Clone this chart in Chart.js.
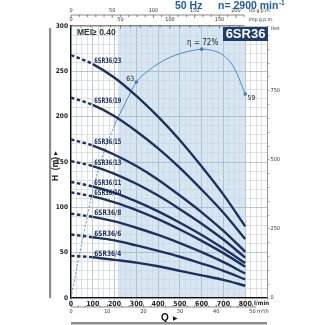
<!DOCTYPE html>
<html><head><meta charset="utf-8">
<script src="https://cdn.jsdelivr.net/npm/chart.js@4"></script>
<style>html,body{margin:0;padding:0;background:#fff}#wrap{width:325px;height:325px}</style>
</head><body><div id="wrap"><canvas id="c" width="325" height="325"></canvas></div>
<script>
// ---- data ----
const flowQ = [0, 100, 200, 300, 400, 500, 600, 700, 800]; // l/min
const pumpModels = ['6SR36/23','6SR36/19','6SR36/15','6SR36/13','6SR36/11','6SR36/10','6SR36/8','6SR36/6','6SR36/4'];
const head23 = [268, 258, 243, 223, 200, 174, 145, 114, 79];
const head19 = [221, 213, 200.5, 184, 165, 143.5, 119.5, 94, 65];
const head15 = [175, 168, 158, 145.5, 130.5, 113, 94.5, 74, 51];
const head13 = [151, 145.5, 137, 126, 113, 98, 82, 64.5, 44.5];
const head11 = [128, 123, 116, 106.5, 95.5, 83, 69.5, 54.5, 38.5];
const head10 = [116.5, 112, 105.5, 97, 87, 75.5, 63, 49.5, 34.5];
const head8  = [93, 89.5, 84.5, 77.5, 69.5, 60.5, 50.5, 39.5, 27];
const head6  = [70, 67, 63.5, 58, 52, 45.5, 38, 30, 20.5];
const head4  = [46.5, 45, 42, 39, 35, 30, 25, 20, 13.5];
const pumpHeads = [head23, head19, head15, head13, head11, head10, head8, head6, head4];

const effQ = [0, 50, 100, 150, 200, 250, 300, 350, 400, 450, 500, 550, 600, 650, 700, 750, 800];
const effValues = [0, 16, 31, 42, 50, 56.5, 62.5, 65.5, 67.8, 69.5, 70.7, 71.5, 72, 71.6, 70.2, 66.5, 59];
const effMarkQ = [300, 600, 800];
const effMarkLabels = ['63', 'η = 72%', '59'];

const usGpmTicks = [0, 50, 100, 150, 200];
const impGpmTicks = [0, 50, 100, 150];
const m3hTicks = [0, 10, 20, 30, 40, 50];
const feetTicks = [0, 250, 500, 750];
const bepRange = [215, 800]; // shaded working range, l/min

// unit conversions (l/min per unit)
const L_PER_USGAL = 3.78541, L_PER_IMPGAL = 4.54609, LMIN_PER_M3H = 1000 / 60, FT_PER_M = 3.28084;

const NAVY = '#1d3160';
const FONT = '"Liberation Sans Narrow","DejaVu Sans Condensed","Liberation Sans",sans-serif';

const pumpSets = pumpModels.map((name, i) => ({
  label: name,
  data: flowQ.map((q, k) => ({x: q, y: pumpHeads[i][k]})),
  borderColor: NAVY, borderWidth: 2.4, pointRadius: 0,
  cubicInterpolationMode: 'monotone', yAxisID: 'y',
  segment: {borderDash: c => c.p1.parsed.x <= 100 ? [3.5, 2.5] : undefined}
}));
const effSet = {
  label: 'eff',
  data: effQ.map((q, k) => ({x: q, y: effValues[k]})),
  borderColor: '#4a8ccc', borderWidth: 1, yAxisID: 'yEff',
  cubicInterpolationMode: 'monotone',
  pointRadius: c => effMarkQ.includes(effQ[c.dataIndex]) ? 1.8 : 0,
  pointBackgroundColor: '#3a7cc0', pointBorderWidth: 0,
  segment: {borderDash: c => c.p1.parsed.x <= 200 ? [2.5, 1.5] : undefined,
            borderWidth: c => c.p1.parsed.x <= 200 ? 0.8 : 1}
};

function fitText(ctx, txt, x, y, maxW) {
  const w = ctx.measureText(txt).width;
  const s = Math.min(1, maxW / w);
  ctx.save(); ctx.translate(x, y); ctx.scale(s, 1); ctx.fillText(txt, 0, 0); ctx.restore();
}

const decor = {
  id: 'decor',
  beforeDraw(chart) {
    const {ctx, chartArea: a, scales: {x}} = chart;
    ctx.save();
    ctx.fillStyle = '#d6e7f3';
    const x0 = x.getPixelForValue(bepRange[0]), x1 = x.getPixelForValue(bepRange[1]);
    ctx.fillRect(x0, a.top, x1 - x0, a.bottom - a.top);
    ctx.restore();
  },
  afterDatasetsDraw(chart) {
    const {ctx, scales: {x, yEff}} = chart;
    ctx.save();
    // pump labels
    ctx.fillStyle = NAVY;
    ctx.font = 'bold 7.5px ' + FONT;
    ctx.textAlign = 'left'; ctx.textBaseline = 'alphabetic';
    pumpModels.forEach((name, i) => {
      const p = chart.getDatasetMeta(i).data[1];
      fitText(ctx, name, p.x + 1.5, p.y - 1.5, 27);
    });
    // efficiency labels
    ctx.fillStyle = '#222';
    ctx.font = '7px ' + FONT;
    effMarkQ.forEach((q, i) => {
      const px = x.getPixelForValue(q), py = yEff.getPixelForValue(effValues[effQ.indexOf(q)]);
      if (i === 0) { ctx.textAlign = 'right'; ctx.textBaseline = 'middle'; ctx.fillText(effMarkLabels[i], px - 2, py - 2.5); }
      else if (i === 1) { ctx.textAlign = 'center'; ctx.textBaseline = 'bottom'; ctx.font = '8px ' + FONT; ctx.fillText(effMarkLabels[i], px + 1, py - 2); ctx.font = '7px ' + FONT; }
      else { ctx.textAlign = 'left'; ctx.textBaseline = 'middle'; ctx.fillText(effMarkLabels[i], px + 2, py + 4); }
    });
    ctx.restore();
  },
  afterDraw(chart) {
    const {ctx, chartArea: a, scales: {x}} = chart;
    ctx.save();
    // title
    ctx.fillStyle = '#1f5ea8';
    ctx.font = 'bold 10.5px "Liberation Sans",Arial,sans-serif';
    ctx.textBaseline = 'middle'; ctx.textAlign = 'left';
    ctx.fillText('50 Hz', 175, 6.5);
    ctx.fillText('n= 2900 min', 218, 6.5);
    const w = ctx.measureText('n= 2900 min').width;
    ctx.font = 'bold 6.5px "Liberation Sans",Arial,sans-serif';
    ctx.fillText('-1', 218 + w + 0.5, 3.5);

    // top axes
    const drawTopAxis = (ticks, factor, lineY, labelY, unit, maxUnits) => {
      ctx.strokeStyle = '#555'; ctx.lineWidth = 0.7;
      const xEnd = x.getPixelForValue(maxUnits * factor);
      ctx.beginPath(); ctx.moveTo(a.left, lineY); ctx.lineTo(xEnd, lineY); ctx.stroke();
      for (let v = 0; v <= maxUnits; v += 10) {
        const px = x.getPixelForValue(v * factor);
        ctx.beginPath(); ctx.moveTo(px, lineY); ctx.lineTo(px, lineY + (v % 50 === 0 ? 3 : 2)); ctx.stroke();
      }
      ctx.fillStyle = '#333'; ctx.font = '5.5px ' + FONT; ctx.textAlign = 'center'; ctx.textBaseline = 'middle';
      ticks.forEach(v => ctx.fillText(String(v), x.getPixelForValue(v * factor), labelY));
      ctx.textAlign = 'left'; ctx.font = '5px ' + FONT;
      ctx.fillText(unit, 249, labelY);
    };
    drawTopAxis(usGpmTicks, L_PER_USGAL, 15, 11, 'US g.p.m.', 210);
    drawTopAxis(impGpmTicks, L_PER_IMPGAL, a.top - 0.5, 20, 'Imp g.p.m.', 175);

    // bottom m3/h axis
    {
      const lineY = 307;
      ctx.strokeStyle = '#555'; ctx.lineWidth = 0.7;
      ctx.beginPath(); ctx.moveTo(a.left, lineY); ctx.lineTo(x.getPixelForValue(51 * LMIN_PER_M3H), lineY); ctx.stroke();
      for (let v = 0; v <= 50; v += 2) {
        const px = x.getPixelForValue(v * LMIN_PER_M3H);
        ctx.beginPath(); ctx.moveTo(px, lineY); ctx.lineTo(px, lineY - (v % 10 === 0 ? 2.5 : 1.5)); ctx.stroke();
      }
      ctx.fillStyle = '#333'; ctx.font = '5.5px ' + FONT; ctx.textAlign = 'center'; ctx.textBaseline = 'middle';
      m3hTicks.forEach(v => ctx.fillText(String(v), x.getPixelForValue(v * LMIN_PER_M3H), 312));
      ctx.textAlign = 'left';
      ctx.fillText('m³/h', 257, 312);
    }
    // l/min unit
    ctx.fillStyle = '#222'; ctx.font = 'bold 6px ' + FONT; ctx.textAlign = 'left'; ctx.textBaseline = 'middle';
    ctx.fillText('l/min', 254, 303);
    // feet unit
    ctx.font = '5px ' + FONT; ctx.fillStyle = '#333';
    ctx.fillText('feet', 271, 29);

    // Q label and bar
    ctx.fillStyle = '#111'; ctx.font = 'bold 10px "Liberation Sans",Arial,sans-serif';
    ctx.textAlign = 'left'; ctx.fillText('Q', 161, 318);
    ctx.font = '6px "DejaVu Sans",sans-serif'; ctx.fillText('▶', 173, 318.5);
    ctx.fillStyle = '#8d8d8d'; ctx.fillRect(a.left, 322, a.right - a.left, 2.5);

    // H label and bar
    ctx.fillRect(49, a.top + 2, 2.2, a.bottom - a.top - 2);
    ctx.save();
    ctx.translate(56, 167); ctx.rotate(-Math.PI / 2);
    ctx.fillStyle = '#111'; ctx.font = 'bold 8.5px "Liberation Sans",Arial,sans-serif';
    ctx.textAlign = 'center'; ctx.textBaseline = 'middle';
    ctx.fillText('H  (m)', -2, 0);
    ctx.font = '5px "DejaVu Sans",sans-serif'; ctx.fillText('▶', 14, 0);
    ctx.restore();

    // MEI text
    ctx.fillStyle = '#333'; ctx.font = 'bold 8.5px "Liberation Sans",Arial,sans-serif';
    ctx.textAlign = 'left'; ctx.textBaseline = 'middle';
    ctx.fillText('MEI≥ 0.40', 77, 33);

    // model box
    ctx.fillStyle = '#1f3a6e';
    ctx.fillRect(223, 27, 45, 14);
    ctx.fillStyle = '#fff'; ctx.font = 'bold 13px "Liberation Sans",Arial,sans-serif';
    ctx.textAlign = 'center'; ctx.fillText('6SR36', 245.5, 34.5);
    ctx.restore();
  }
};

const gridCol = (major) => (c => {
  const v = c.tick ? c.tick.value : 0;
  return (v % major === 0) ? '#9fb0bd' : '#cdd6dd';
});

new Chart(document.getElementById('c').getContext('2d'), {
  type: 'line',
  data: {datasets: [...pumpSets, effSet]},
  options: {
    responsive: false, animation: false, devicePixelRatio: 1,
    layout: {padding: {top: 26, left: 0, right: 0, bottom: 0}},
    plugins: {legend: {display: false}, tooltip: {enabled: false}},
    scales: {
      x: {
        type: 'linear', min: 0, max: 900,
        afterFit(s) { s.height = 27; },
        ticks: {stepSize: 25, autoSkip: false, maxRotation: 0, padding: 0, color: '#222',
          font: {family: FONT, size: 7, weight: 'bold'},
          callback: v => (v % 100 === 0 && v <= 800) ? String(v) : ''},
        grid: {color: gridCol(100), lineWidth: 0.7, tickLength: 2},
        border: {color: '#111', width: 1.3}
      },
      y: {
        min: 0, max: 300,
        afterFit(s) { s.width = 71; },
        ticks: {stepSize: 10, autoSkip: false, padding: 3, color: '#222',
          font: {family: FONT, size: 6.5, weight: 'bold'},
          callback: v => v % 50 === 0 ? String(v) : ''},
        grid: {color: gridCol(50), lineWidth: 0.7, drawTicks: false},
        border: {color: '#111', width: 1.3}
      },
      yFt: {
        position: 'right', min: 0, max: 300 * FT_PER_M,
        afterFit(s) { s.width = 58; },
        ticks: {stepSize: 50, autoSkip: false, padding: 1, color: '#333',
          font: {family: FONT, size: 5.5},
          callback: v => feetTicks.includes(v) ? String(v) : ''},
        grid: {drawOnChartArea: false, tickLength: 2.5, color: '#777', lineWidth: 0.6},
        border: {color: '#888', width: 0.8}
      },
      yEff: {display: false, min: 0, max: 78.7}
    }
  },
  plugins: [decor]
});
</script></body></html>
